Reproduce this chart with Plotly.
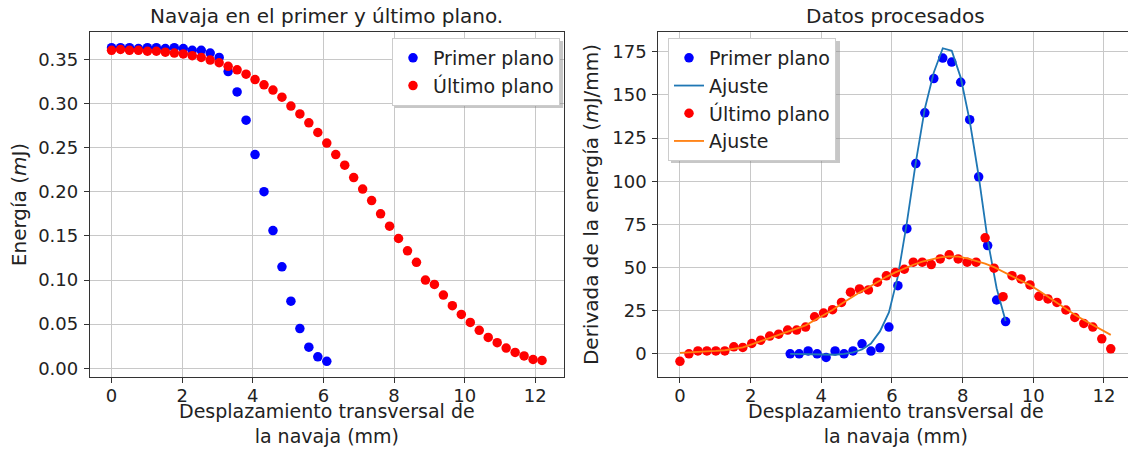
import plotly.graph_objects as go

# ---------------- data ----------------
x_ultimo = [0.0, 0.254, 0.508, 0.762, 1.016, 1.27, 1.524, 1.778, 2.032, 2.286,
            2.54, 2.794, 3.048, 3.302, 3.556, 3.81, 4.064, 4.318, 4.572, 4.826,
            5.08, 5.334, 5.588, 5.842, 6.096, 6.35, 6.604, 6.858, 7.112, 7.366,
            7.62, 7.874, 8.128, 8.382, 8.636, 8.89, 9.144, 9.398, 9.652, 9.906,
            10.16, 10.414, 10.668, 10.922, 11.176, 11.43, 11.684, 11.938, 12.192]
x_primer = [0.0, 0.254, 0.508, 0.762, 1.016, 1.27, 1.524, 1.778, 2.032, 2.286,
            2.54, 2.794, 3.048, 3.302, 3.556, 3.81, 4.064, 4.318, 4.572, 4.826,
            5.08, 5.334, 5.588, 5.842, 6.096]

e_primer = [0.363, 0.363, 0.363, 0.362, 0.363, 0.363, 0.362, 0.363, 0.362, 0.360,
            0.360, 0.357, 0.352, 0.336, 0.313, 0.281, 0.242, 0.200, 0.156, 0.115,
            0.076, 0.045, 0.024, 0.013, 0.008]
e_ultimo = [0.360, 0.361, 0.360, 0.360, 0.359, 0.359, 0.358, 0.357, 0.356, 0.354,
            0.352, 0.349, 0.346, 0.342, 0.338, 0.333, 0.327, 0.321, 0.315, 0.307,
            0.297, 0.288, 0.278, 0.267, 0.255, 0.242, 0.230, 0.216, 0.203, 0.190,
            0.175, 0.161, 0.147, 0.133, 0.120, 0.100, 0.095, 0.083, 0.071, 0.061,
            0.052, 0.043, 0.035, 0.029, 0.023, 0.018, 0.014, 0.010, 0.009]

x_der_primer = [3.12, 3.374, 3.628, 3.882, 4.136, 4.39, 4.644, 4.898, 5.152, 5.406,
                5.66, 5.914, 6.168, 6.422, 6.676, 6.93, 7.184, 7.438, 7.692, 7.946,
                8.2, 8.454, 8.708, 8.962, 9.216]
d_primer = [0.0, 0.0, 1.7, 0.0, -2.1, 1.7, 0.0, 1.7, 5.8, 1.6,
            3.5, 15.5, 39.5, 72.5, 110.2, 139.6, 159.4, 171.3, 169.0, 157.3,
            135.6, 102.5, 62.7, 31.2, 18.7]
fit_primer = [0.0, -0.1, -0.3, -0.5, -0.8, -0.5, 0.0, 0.8, 2.5, 6.0,
              13.0, 24.0, 45.0, 76.0, 111.0, 142.0, 163.0, 177.0, 175.5, 160.0,
              135.0, 103.0, 66.0, 38.0, 19.0]

d_ultimo = [-4.3, 0.0, 1.7, 1.7, 1.7, 1.7, 4.1, 3.7, 6.0, 7.9,
            10.3, 11.4, 13.8, 13.8, 15.5, 21.5, 23.6, 25.6, 29.8, 35.7,
            37.6, 37.0, 41.5, 45.2, 47.1, 49.0, 53.1, 53.1, 51.7, 55.0,
            57.4, 55.0, 53.1, 53.1, 67.2, 49.6, 33.1, 45.3, 43.4, 39.9,
            33.3, 31.8, 29.8, 25.4, 21.1, 17.6, 15.5, 8.7, 2.9]
fit_ultimo = [0.6, 0.8, 1.0, 1.3, 1.7, 2.1, 2.8, 3.7, 5.5, 7.3,
              9.2, 11.0, 12.8, 14.5, 16.5, 19.5, 22.5, 25.4, 29.0, 32.5,
              35.5, 38.4, 41.6, 44.6, 47.2, 49.6, 51.6, 53.4, 54.8, 55.9,
              56.5, 56.3, 55.3, 54.0, 52.3, 50.2, 47.6, 44.8, 42.4, 39.8,
              36.5, 33.0, 29.5, 25.8, 22.6, 19.6, 16.8, 14.0, 11.0]

# ---------------- style ----------------
W, H = 1128, 449
FONT = "DejaVu Sans"
TXT = "#222222"
GRID = "#c8c8c8"
SPINE = "#333333"
MS = 9.5
TOP, BOT = 32, 72
PH = H - TOP - BOT


def px_x(p):
    return p / W


def px_y(p):
    return 1 - (p - TOP) / PH


fig = go.Figure()

fig.add_trace(go.Scatter(x=x_primer, y=e_primer, mode="markers", name="Primer plano",
                         marker=dict(color="#0000ff", size=MS), xaxis="x", yaxis="y",
                         legend="legend"))
fig.add_trace(go.Scatter(x=x_ultimo, y=e_ultimo, mode="markers", name="Último plano",
                         marker=dict(color="#ff0000", size=MS), xaxis="x", yaxis="y",
                         legend="legend"))

fig.add_trace(go.Scatter(x=x_der_primer, y=d_primer, mode="markers", name="Primer plano",
                         marker=dict(color="#0000ff", size=MS), xaxis="x2", yaxis="y2",
                         legend="legend2"))
fig.add_trace(go.Scatter(x=x_der_primer, y=fit_primer, mode="lines", name="Ajuste",
                         line=dict(color="#1f77b4", width=1.8), xaxis="x2", yaxis="y2",
                         legend="legend2"))
fig.add_trace(go.Scatter(x=x_ultimo, y=d_ultimo, mode="markers", name="Último plano",
                         marker=dict(color="#ff0000", size=MS), xaxis="x2", yaxis="y2",
                         legend="legend2"))
fig.add_trace(go.Scatter(x=x_ultimo, y=fit_ultimo, mode="lines", name="Ajuste",
                         line=dict(color="#ff7f0e", width=1.8), xaxis="x2", yaxis="y2",
                         legend="legend2"))

axis_common = dict(showgrid=True, gridcolor=GRID, gridwidth=1.3, zeroline=False,
                   showline=True, linecolor=SPINE, linewidth=1.3, automargin=False,
                   ticks="outside", ticklen=5, tickwidth=1.2, tickcolor=SPINE,
                   tickfont=dict(family=FONT, size=18, color=TXT))

xlab = "Desplazamiento transversal de<br>la navaja (mm)"
tfont = dict(family=FONT, size=20, color=TXT)
xfont = dict(family=FONT, size=19, color=TXT)
lfont = dict(family=FONT, size=19, color=TXT)

L1 = (90, 563.5)
L2 = (658.4, 1132.6)

# legend boxes (pixels) used for the matplotlib-like drop shadow
LEG1 = (392, 38, 560, 105)
LEG2 = (668, 38, 837, 160)
shapes = []
for (x0, y0, x1, y1) in (LEG1, LEG2):
    shapes.append(dict(type="rect", xref="paper", yref="paper", layer="above",
                       x0=px_x(x0 + 3), x1=px_x(x1 + 3), y0=px_y(y1 + 3), y1=px_y(y0 + 3),
                       fillcolor="rgba(130,130,130,0.45)", line=dict(width=0)))

fig.update_layout(
    width=W, height=H,
    margin=dict(l=0, r=0, t=TOP, b=BOT, autoexpand=False),
    paper_bgcolor="white", plot_bgcolor="white",
    font=dict(family=FONT, color=TXT),
    xaxis=dict(domain=[px_x(L1[0]), px_x(L1[1])], range=[-0.61, 12.80], dtick=2, mirror=True,
               ticklabelstandoff=-3, anchor="y", **axis_common),
    yaxis=dict(domain=[0, 1], range=[-0.0098, 0.3808], dtick=0.05, tickformat=".2f",
               mirror=True, anchor="x", ticklabelstandoff=2,
               title=dict(text="Energía (<i>m</i>J)", font=tfont, standoff=6),
               **axis_common),
    xaxis2=dict(domain=[px_x(L2[0]), 1.0], range=[-0.61, 12.68], dtick=2, mirror=True,
                ticklabelstandoff=-3, anchor="y2", **axis_common),
    yaxis2=dict(domain=[0, 1], range=[-13.4, 186.4], dtick=25, mirror=False, anchor="x2",
                ticklabelstandoff=2,
                title=dict(text="Derivada de la energía (<i>m</i>J/mm)", font=tfont, standoff=8),
                **axis_common),
    legend=dict(x=px_x(LEG1[2]), y=px_y(LEG1[1]), xanchor="right", yanchor="top",
                bgcolor="white", bordercolor="#cccccc", borderwidth=1, font=lfont),
    legend2=dict(x=px_x(LEG2[0]), y=px_y(LEG2[1]), xanchor="left", yanchor="top",
                 bgcolor="white", bordercolor="#cccccc", borderwidth=1, font=lfont),
    showlegend=True,
    shapes=shapes,
    annotations=[
        dict(text="Navaja en el primer y último plano.", x=px_x(sum(L1) / 2), y=1,
             xref="paper", yref="paper", xanchor="center", yanchor="bottom", yshift=2,
             showarrow=False, font=tfont),
        dict(text="Datos procesados", x=px_x(sum(L2) / 2), y=1,
             xref="paper", yref="paper", xanchor="center", yanchor="bottom", yshift=2,
             showarrow=False, font=tfont),
        dict(text=xlab, x=px_x(sum(L1) / 2), y=0, xref="paper", yref="paper",
             xanchor="center", yanchor="top", yshift=-21, showarrow=False, font=xfont),
        dict(text=xlab, x=px_x(sum(L2) / 2), y=0, xref="paper", yref="paper",
             xanchor="center", yanchor="top", yshift=-21, showarrow=False, font=xfont),
    ],
)

fig.write_html("out.html", config={"displayModeBar": False},
               post_script="document.body.style.margin='0px';")
